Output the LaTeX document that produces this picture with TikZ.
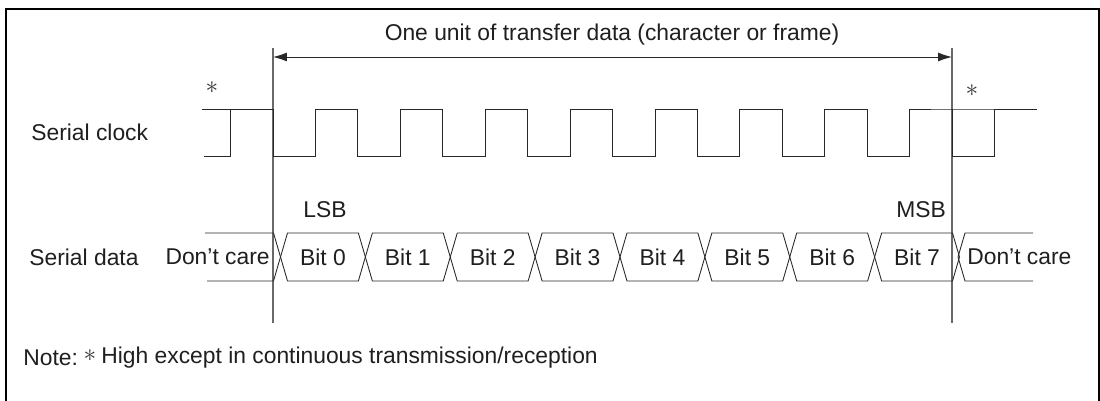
\documentclass[tikz,border=0pt]{standalone}
\usepackage{fontspec}
\setmainfont{Liberation Sans}
\usetikzlibrary{arrows.meta,positioning,calc}
\definecolor{wave}{RGB}{40,40,40}
\definecolor{guide}{RGB}{105,105,105}

\begin{document}
\begin{tikzpicture}[x=0.02cm,y=-0.02cm,
  font=\fontsize{13}{15}\selectfont,
  wave/.style={draw=wave,line width=0.5pt},
  guide/.style={draw=guide,line width=0.6pt},
  lbl/.style={inner sep=0pt,text=black!88},
  star/.style={inner sep=0pt,text=black!80,font=\fontsize{15}{15}\selectfont}]
\useasboundingbox (0,0) rectangle (1100,401);
\draw[line width=0.8pt] (6,402) -- (6,9) -- (1099,9) -- (1099,402);

% ---- one unit of transfer data ----
\coordinate (ustart) at (273,48);
\coordinate (uend) at (952,48);
\coordinate (arrL) at (273,57);
\coordinate (arrR) at (952,57);
\draw[guide] (ustart) -- ++(0,275);
\draw[guide] (uend) -- ++(0,275);
\draw[wave,{Latex[length=14pt*0.567,width=9pt*0.567]}-{Latex[length=14pt*0.567,width=9pt*0.567]}] (arrL) -- (arrR);
\node[lbl] (unit) at (612,35) {One unit of transfer data (character or frame)};

% ---- serial clock ----
\node[lbl,anchor=west] (sclk) at (31,132) {Serial clock};
\node[star] (starL) at (212,88) {$\ast$};
\node[star] (starR) at (972,91) {$\ast$};
\draw[wave] (202,109) -- (273,109)
  \foreach \i in {1,...,8}{ -- ++(0,47) -- ++(42.44,0) -- ++(0,-47) -- ++(42.44,0)}
  -- (1037,109);
\draw[wave] (204,156) -- (230,156) -- (230,109);
\draw[wave] (952,109) -- (952,156) -- (994,156) -- (994,109);

% ---- serial data ----
\node[lbl,anchor=west] (sdat) at (29,257) {Serial data};
\draw[wave] (205,233) -- (273.5,233) -- (280.5,257) -- (273.5,281) -- (207,281);
\draw[wave] (1033,233) -- (965,233) -- (958,257) -- (965,281) -- (1033,281);
\foreach \k in {0,...,7}{
  \pgfmathsetmacro\cx{280.5+84.875*\k}
  \draw[wave] (\cx,257) -- (\cx+7,233) -- (\cx+77.875,233) -- (\cx+84.875,257)
    -- (\cx+77.875,281) -- (\cx+7,281) -- cycle;
  \node[lbl] (bit\k) at (\cx+42.44,257) {Bit \k};
}
\node[lbl,anchor=east] (dcL) at (270,257) {Don’t care};
\node[lbl,anchor=west] (dcR) at (967,257) {Don’t care};
\node[lbl] (lsb) at (325,210) {LSB};
\node[lbl] (msb) at (921,210) {MSB};

% ---- note ----
\node[lbl,anchor=west] (note) at (23,358) {Note:};
\node[star] (starN) at (90,356) {$\ast$};
\node[lbl,anchor=west] (notetxt) at (101,358) {High except in continuous transmission/reception};
\end{tikzpicture}
\end{document}
